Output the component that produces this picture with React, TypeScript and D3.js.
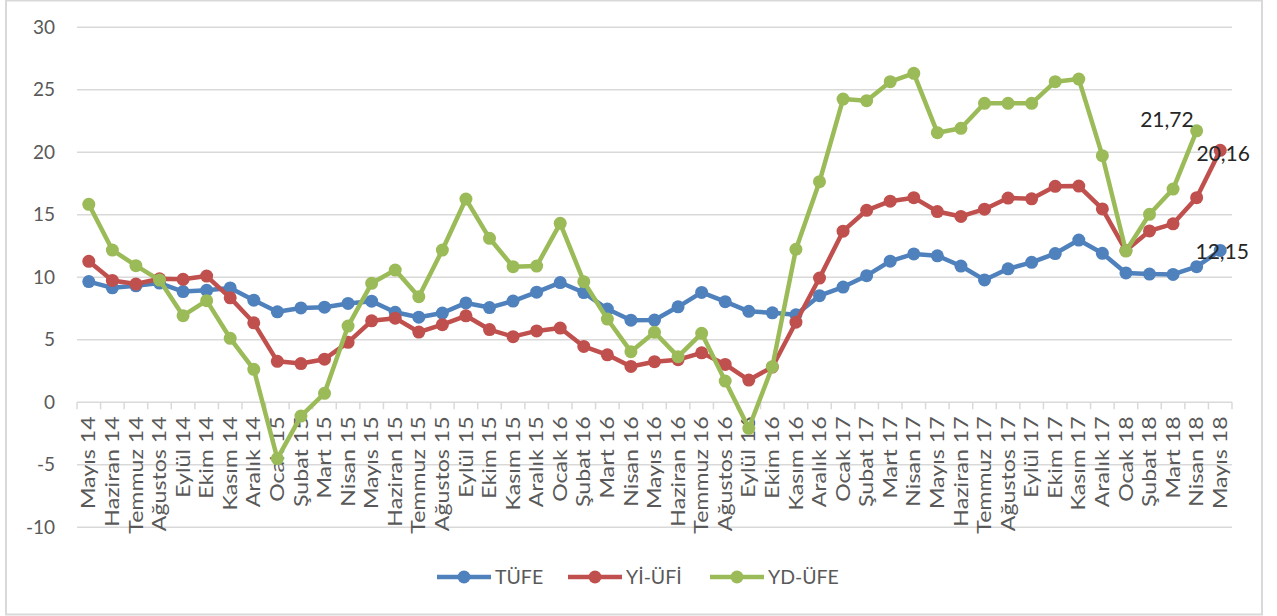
import { useMemo } from "react";
import * as d3 from "d3";

const WIDTH = 1277;
const HEIGHT = 616;

const months = [
  "Mayıs", "Haziran", "Temmuz", "Ağustos", "Eylül", "Ekim", "Kasım", "Aralık",
  "Ocak", "Şubat", "Mart", "Nisan",
];

// Mayıs 14 .. Mayıs 18
const categories: string[] = [];
for (let i = 0; i < 49; i++) {
  const m = (4 + i) % 12;
  const year = 14 + Math.floor((4 + i) / 12);
  categories.push(`${months[(m + 8) % 12]} ${year}`);
}

const tufe = [
  9.66, 9.16, 9.32, 9.54, 8.86, 8.96, 9.15, 8.17,
  7.24, 7.55, 7.61, 7.91, 8.09, 7.2, 6.81, 7.14, 7.95, 7.58, 8.1, 8.81,
  9.58, 8.78, 7.46, 6.57, 6.58, 7.64, 8.79, 8.05, 7.28, 7.16, 7.0, 8.53,
  9.22, 10.13, 11.29, 11.87, 11.72, 10.9, 9.79, 10.68, 11.2, 11.9, 12.98, 11.92,
  10.35, 10.26, 10.23, 10.85, 12.15,
];

const yiUfe = [
  11.28, 9.75, 9.46, 9.88, 9.84, 10.1, 8.36, 6.36,
  3.28, 3.1, 3.45, 4.8, 6.52, 6.73, 5.62, 6.21, 6.92, 5.82, 5.25, 5.71,
  5.94, 4.47, 3.8, 2.87, 3.25, 3.41, 3.96, 3.03, 1.78, 2.82, 6.41, 9.94,
  13.69, 15.36, 16.09, 16.37, 15.26, 14.87, 15.45, 16.34, 16.28, 17.28, 17.3, 15.47,
  12.14, 13.71, 14.28, 16.37, 20.16,
];

const ydUfe = [
  15.84, 12.18, 10.93, 9.78, 6.93, 8.13, 5.12, 2.64,
  -4.5, -1.1, 0.72, 6.1, 9.52, 10.58, 8.45, 12.18, 16.26, 13.12, 10.85, 10.9,
  14.32, 9.65, 6.66, 4.05, 5.6, 3.65, 5.52, 1.7, -2.08, 2.85, 12.24, 17.65,
  24.26, 24.13, 25.65, 26.32, 21.57, 21.92, 23.92, 23.92, 23.92, 25.65, 25.86, 19.73,
  12.1, 15.04, 17.06, 21.72,
];

const yTicks = [-10, -5, 0, 5, 10, 15, 20, 25, 30];

const series = [
  { name: "TÜFE", values: tufe, color: "#4F81BD", label: { dx: 2, dy: 1, anchor: "middle" } },
  { name: "Yİ-ÜFİ", values: yiUfe, color: "#C0504D", label: { dx: 3, dy: 3, anchor: "middle" } },
  { name: "YD-ÜFE", values: ydUfe, color: "#9BBB59", label: { dx: -3, dy: -11, anchor: "end" } },
];

const FONT = "Lato, 'Open Sans', sans-serif";
const PLOT = { left: 77, right: 1232, top: 27.3, bottom: 527.3 };

const App = () => {
  const x = useMemo(
    () => d3.scaleBand<string>().domain(categories).range([PLOT.left, PLOT.right]).padding(0),
    []
  );
  const y = useMemo(
    () => d3.scaleLinear().domain([-10, 30]).range([PLOT.bottom, PLOT.top]),
    []
  );
  const cx = (i: number) => (x(categories[i]) as number) + x.bandwidth() / 2;

  const line = d3
    .line<number>()
    .x((_, i) => cx(i))
    .y((d) => y(d));

  const y0 = y(0);

  return (
    <div style={{ position: "absolute", left: 0, top: 0 }}>
      <svg width={WIDTH} height={HEIGHT} style={{ display: "block", background: "#fff" }}>
        <rect x={6} y={0.5} width={1256} height={614} fill="#fff" stroke="#d9d9d9" strokeWidth={2} />

        {/* gridlines + y labels */}
        {yTicks.map((t) => (
          <g key={t}>
            {t !== 0 && (
              <line x1={PLOT.left} x2={PLOT.right} y1={y(t)} y2={y(t)} stroke="#d9d9d9" strokeWidth={1.5} />
            )}
            <text
              x={55}
              y={y(t)}
              dy="0.35em"
              textAnchor="end"
              fontFamily={FONT}
              fontSize={19}
              fill="#595959"
            >
              {t}
            </text>
          </g>
        ))}

        {/* category axis at zero */}
        <line x1={PLOT.left} x2={PLOT.right} y1={y0} y2={y0} stroke="#d9d9d9" strokeWidth={1.5} />
        {categories.concat([""]).map((c, i) => {
          const xx = PLOT.left + i * x.bandwidth();
          return <line key={"t" + i} x1={xx} x2={xx} y1={y0} y2={y0 + 7} stroke="#d9d9d9" strokeWidth={1.5} />;
        })}
        {categories.map((c, i) => (
          <text
            key={c}
            transform={`translate(${cx(i)},${y0 + 14}) rotate(-90) scale(1.22,1)`}
            dy="0.35em"
            textAnchor="end"
            fontFamily={FONT}
            fontSize={19}
            fill="#595959"
          >
            {c}
          </text>
        ))}

        {/* series */}
        {series.map((s) => (
          <g key={s.name}>
            <path d={line(s.values) || ""} fill="none" stroke={s.color} strokeWidth={4.5} strokeLinejoin="round" />
            {s.values.map((v, i) => (
              <circle key={i} cx={cx(i)} cy={y(v)} r={6.5} fill={s.color} />
            ))}
          </g>
        ))}

        {/* last-value labels */}
        {series.map((s) => {
          const i = s.values.length - 1;
          const v = s.values[i];
          return (
            <text
              key={"l" + s.name}
              x={cx(i) + s.label.dx}
              y={y(v) + s.label.dy}
              dy="0.35em"
              textAnchor={s.label.anchor}
              fontFamily={FONT}
              fontSize={21}
              fill="#262626"
            >
              {v.toFixed(2).replace(".", ",")}
            </text>
          );
        })}

        {/* legend */}
        {series.map((s, k) => {
          const lx = [437, 568, 710][k];
          const ly = 577;
          return (
            <g key={"lg" + s.name}>
              <line x1={lx} x2={lx + 54} y1={ly} y2={ly} stroke={s.color} strokeWidth={4.5} />
              <circle cx={lx + 27} cy={ly} r={6.5} fill={s.color} />
              <text x={lx + 58} y={ly} dy="0.35em" fontFamily={FONT} fontSize={19.5} fill="#595959">
                {s.name}
              </text>
            </g>
          );
        })}
      </svg>
    </div>
  );
};

export default App;
